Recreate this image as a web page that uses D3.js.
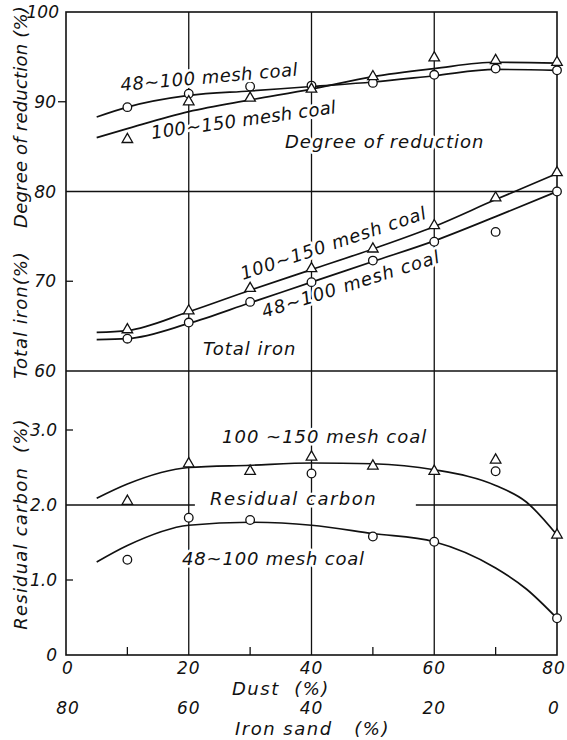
<!DOCTYPE html>
<html>
<head>
<meta charset="utf-8">
<script src="https://cdn.jsdelivr.net/npm/d3@7"></script>
<style>
  html, body { margin: 0; padding: 0; background: #fff; }
  svg { display: block; }
  text { font-family: 'DejaVu Sans', sans-serif; font-style: italic; fill: #111; }
  .halo { stroke: #fff; stroke-width: 5px; paint-order: stroke; stroke-linejoin: round; }
</style>
</head>
<body>
<div id="chart"></div>
<script>
// Values (dust % on the x axis)
const dust = [10, 20, 30, 40, 50, 60, 70, 80];
const fitX = [5, 10, 20, 30, 40, 50, 60, 70, 80];
const carbonFitX = [5, 10, 20, 30, 40, 50, 60, 70, 75, 80];

// Degree of reduction (%)
const red48 = [89.4, 90.9, 91.7, 91.8, 92.1, 93.0, 93.7, 93.5];
const red100 = [85.8, 90.0, 90.4, 91.4, 92.8, 94.9, 94.6, 94.4];
const redFit48 = [88.3, 89.4, 90.7, 91.2, 91.7, 92.2, 92.9, 93.6, 93.5];
const redFit100 = [86.0, 87.0, 88.9, 90.2, 91.4, 92.8, 93.7, 94.4, 94.3];

// Total iron (%)
const iron48 = [63.6, 65.4, 67.7, 69.9, 72.3, 74.4, 75.5, 80.0];
const iron100 = [64.6, 66.7, 69.2, 71.4, 73.6, 76.2, 79.3, 82.1];
const ironFit48 = [63.5, 63.6, 65.3, 67.6, 69.9, 72.2, 74.5, 77.2, 80.0];
const ironFit100 = [64.3, 64.5, 66.6, 69.0, 71.3, 73.6, 76.1, 79.1, 82.0];

// Residual carbon (%)
const carb48 = [1.27, 1.83, 1.80, 2.42, 1.58, 1.51, 2.45, 0.49];
const carb100 = [2.05, 2.55, 2.45, 2.64, 2.52, 2.45, 2.60, 1.60];
const carbFit48 = [1.24, 1.46, 1.73, 1.77, 1.73, 1.62, 1.51, 1.16, 0.88, 0.49];
const carbFit100 = [2.09, 2.28, 2.50, 2.53, 2.56, 2.55, 2.47, 2.26, 2.04, 1.60];

// Tick labels
const dustTicks = [0, 20, 40, 60, 80];
const ironSandLabels = ['80', '60', '40', '20', '0'];
const minorTicks = [10, 30, 50, 70];
const redTicks = [100, 90, 80];
const ironTicks = [70, 60];
const carbTicks = [3, 2, 1, 0];

const W = 567, H = 740;
const svg = d3.select('#chart').append('svg')
  .attr('width', W).attr('height', H)
  .attr('viewBox', `0 0 ${W} ${H}`);

const x = d3.scaleLinear().domain([0, 80]).range([66, 557]);
const yRed = d3.scaleLinear().domain([80, 100]).range([191.5, 12]);
const yIron = d3.scaleLinear().domain([60, 80]).range([371, 191.5]);
const yCarb = d3.scaleLinear().domain([0, 3]).range([655, 430]);

const ink = '#111';

// grid and frame
const grid = svg.append('g').attr('stroke', ink).attr('fill', 'none');
grid.append('rect')
  .attr('x', x(0)).attr('y', yRed(100))
  .attr('width', x(80) - x(0)).attr('height', yCarb(0) - yRed(100))
  .attr('stroke-width', 1.6);
[20, 40, 60].forEach(v => {
  grid.append('line')
    .attr('x1', x(v)).attr('x2', x(v))
    .attr('y1', yRed(100)).attr('y2', yCarb(0))
    .attr('stroke-width', 1.3);
});
grid.append('line').attr('x1', x(0)).attr('x2', x(80))
  .attr('y1', yRed(80)).attr('y2', yRed(80)).attr('stroke-width', 1.3);
grid.append('line').attr('x1', x(0)).attr('x2', x(80))
  .attr('y1', yIron(60)).attr('y2', yIron(60)).attr('stroke-width', 1.3);
// the 2.0 line is broken where the label sits
[[0, 21], [57, 80]].forEach(([a, b]) => {
  grid.append('line').attr('x1', x(a)).attr('x2', x(b))
    .attr('y1', yCarb(2)).attr('y2', yCarb(2)).attr('stroke-width', 1.3);
});

// small ticks
minorTicks.forEach(v => {
  grid.append('line').attr('x1', x(v)).attr('x2', x(v))
    .attr('y1', yCarb(0)).attr('y2', yCarb(0) - 8).attr('stroke-width', 1.3);
});
grid.append('line').attr('x1', x(0) - 8).attr('x2', x(0))
  .attr('y1', yRed(90)).attr('y2', yRed(90)).attr('stroke-width', 1.3);
grid.append('line').attr('x1', x(0)).attr('x2', x(0) + 7)
  .attr('y1', yIron(70)).attr('y2', yIron(70)).attr('stroke-width', 1.3);
[3, 1].forEach(v => {
  grid.append('line').attr('x1', x(0)).attr('x2', x(0) + 7)
    .attr('y1', yCarb(v)).attr('y2', yCarb(v)).attr('stroke-width', 1.3);
});

// fitted curves
const line = (xs, ys, yScale) => d3.line()
  .x(d => x(d[0])).y(d => yScale(d[1]))
  .curve(d3.curveMonotoneX)(xs.map((v, i) => [v, ys[i]]));

const curves = svg.append('g').attr('fill', 'none').attr('stroke', ink).attr('stroke-width', 1.7);
[
  [fitX, redFit48, yRed], [fitX, redFit100, yRed],
  [fitX, ironFit48, yIron], [fitX, ironFit100, yIron],
  [carbonFitX, carbFit48, yCarb], [carbonFitX, carbFit100, yCarb]
].forEach(([xs, ys, s]) => curves.append('path').attr('d', line(xs, ys, s)));

// markers
const marks = svg.append('g').attr('fill', '#fff').attr('stroke', ink).attr('stroke-width', 1.3);
const tri = d3.symbol().type(d3.symbolTriangle).size(48);
function circles(vals, s) {
  vals.forEach((v, i) => marks.append('circle')
    .attr('cx', x(dust[i])).attr('cy', s(v)).attr('r', 4.3));
}
function triangles(vals, s) {
  vals.forEach((v, i) => marks.append('path').attr('d', tri)
    .attr('transform', `translate(${x(dust[i])},${s(v)})`));
}
circles(red48, yRed); triangles(red100, yRed);
circles(iron48, yIron); triangles(iron100, yIron);
circles(carb48, yCarb); triangles(carb100, yCarb);

// curve annotations
const notes = svg.append('g').style('font-size', '18px');
function note(txt, px, py, angle, spacing) {
  notes.append('text').attr('class', 'halo')
    .attr('transform', `translate(${px},${py}) rotate(${angle})`)
    .style('letter-spacing', (spacing || 0) + 'px')
    .style('white-space', 'pre')
    .text(txt);
}
note('48~100 mesh coal', 121, 91, -5, 0.5);
note('100~150 mesh coal', 152, 139, -8, 0.3);
note('Degree of reduction', 285, 148, 0, 1);
note('100~150 mesh coal', 243, 280, -18.5, 0.8);
note('48~100 mesh coal', 264, 318, -17.5, 1);
note('Total iron', 203, 355, 0, 1);
note('100 ~150 mesh coal', 222, 443, 0, 1);
note('Residual carbon', 210, 505, 0, 1.5);
note('48~100 mesh coal', 182, 565, 0, 0.8);

// y axis tick labels
const tl = svg.append('g').style('font-size', '17px').attr('text-anchor', 'end');
redTicks.forEach(v => tl.append('text').attr('x', v === 100 ? 59 : 56).attr('y', yRed(v) + 6).text(v));
ironTicks.forEach(v => tl.append('text').attr('x', 56).attr('y', yIron(v) + 6).text(v));
carbTicks.forEach(v => tl.append('text').attr('x', 57).attr('y', yCarb(v) + 6)
  .text(v === 0 ? '0' : v.toFixed(1)));

// x axis tick labels
const xl = svg.append('g').style('font-size', '17px').attr('text-anchor', 'middle').style('letter-spacing', '1px');
const nudge = v => (v === 0 ? 2 : v === 80 ? -3 : 0);
dustTicks.forEach(v => xl.append('text').attr('x', x(v) + nudge(v)).attr('y', 674).text(v));
ironSandLabels.forEach((t, i) => xl.append('text').attr('x', x(dustTicks[i]) + nudge(dustTicks[i])).attr('y', 714).text(t));

svg.append('text').attr('x', 232).attr('y', 695).style('font-size', '18px')
  .style('letter-spacing', '1.5px').style('white-space', 'pre').text('Dust  (%)');
svg.append('text').attr('x', 235).attr('y', 735).style('font-size', '18px')
  .style('letter-spacing', '1.5px').style('white-space', 'pre').text('Iron sand   (%)');

// y axis titles
const yt = svg.append('g').style('font-size', '18px').attr('text-anchor', 'middle');
function ytitle(txt, cy, spacing) {
  yt.append('text').attr('transform', `translate(27,${cy}) rotate(-90)`)
    .style('letter-spacing', spacing + 'px').style('white-space', 'pre').text(txt);
}
ytitle('Degree of reduction (%)', 117, 0.2);
ytitle('Total iron(%)', 315, 1);
ytitle('Residual carbon  (%)', 524, 1.2);
</script>
</body>
</html>
